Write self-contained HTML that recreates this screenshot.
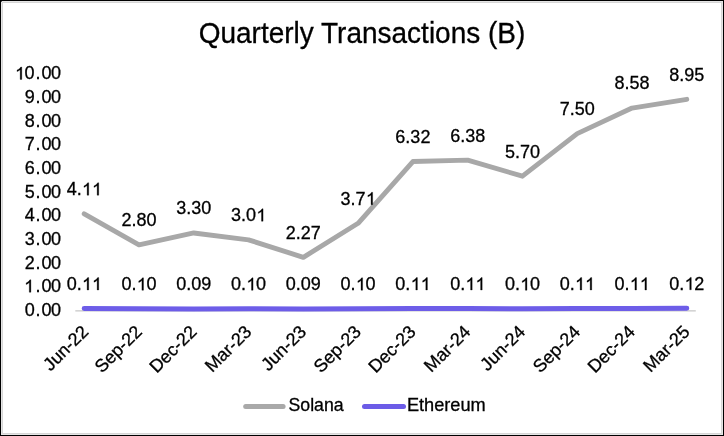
<!DOCTYPE html>
<html><head><meta charset="utf-8"><title>Quarterly Transactions (B)</title>
<style>
html,body{margin:0;padding:0;background:#fff;}
body{width:724px;height:436px;overflow:hidden;font-family:"Liberation Sans",sans-serif;}
svg{display:block;will-change:transform;}
text{font-family:"Liberation Sans",sans-serif;fill:#000;stroke:#000;stroke-width:0.3px;}
</style></head><body>
<svg width="724" height="436" viewBox="0 0 724 436">
<rect x="0" y="0" width="724" height="436" fill="#fff"/>

<g shape-rendering="crispEdges">
<rect x="2.5" y="2.5" width="719" height="431" fill="none" stroke="#d6d6d6" stroke-width="1"/>
<rect x="1.5" y="1.5" width="721" height="433" fill="none" stroke="#e5e5e5" stroke-width="1"/>
<rect x="0.5" y="0.5" width="723" height="435" fill="none" stroke="#000" stroke-width="1"/>
<rect x="1" y="1" width="1" height="1" fill="#555"/>
</g>
<text transform="translate(362,42.8) scale(1,1.035)" font-size="28" text-anchor="middle">Quarterly Transactions (B)</text>
<text x="24.77" y="315.90" font-size="18">0</text><text x="35.38" y="315.90" font-size="18">.</text><text x="41.48" y="315.90" font-size="18">0</text><text x="50.89" y="315.90" font-size="18">0</text>
<path transform="translate(24.77,292.25) scale(0.008789,-0.008789)" d="M696 0H516V1098Q451 1038 345.5 979Q240 920 156 890V1057Q307 1125 420 1221Q533 1318 580 1409H696Z" fill="#000" stroke="#000" stroke-width="34.1"/><text x="35.38" y="292.25" font-size="18">.</text><text x="41.48" y="292.25" font-size="18">0</text><text x="50.89" y="292.25" font-size="18">0</text>
<text x="24.77" y="268.60" font-size="18">2</text><text x="35.38" y="268.60" font-size="18">.</text><text x="41.48" y="268.60" font-size="18">0</text><text x="50.89" y="268.60" font-size="18">0</text>
<text x="24.77" y="244.95" font-size="18">3</text><text x="35.38" y="244.95" font-size="18">.</text><text x="41.48" y="244.95" font-size="18">0</text><text x="50.89" y="244.95" font-size="18">0</text>
<text x="24.77" y="221.30" font-size="18">4</text><text x="35.38" y="221.30" font-size="18">.</text><text x="41.48" y="221.30" font-size="18">0</text><text x="50.89" y="221.30" font-size="18">0</text>
<text x="24.77" y="197.65" font-size="18">5</text><text x="35.38" y="197.65" font-size="18">.</text><text x="41.48" y="197.65" font-size="18">0</text><text x="50.89" y="197.65" font-size="18">0</text>
<text x="24.77" y="174.00" font-size="18">6</text><text x="35.38" y="174.00" font-size="18">.</text><text x="41.48" y="174.00" font-size="18">0</text><text x="50.89" y="174.00" font-size="18">0</text>
<text x="24.77" y="150.35" font-size="18">7</text><text x="35.38" y="150.35" font-size="18">.</text><text x="41.48" y="150.35" font-size="18">0</text><text x="50.89" y="150.35" font-size="18">0</text>
<text x="24.77" y="126.70" font-size="18">8</text><text x="35.38" y="126.70" font-size="18">.</text><text x="41.48" y="126.70" font-size="18">0</text><text x="50.89" y="126.70" font-size="18">0</text>
<text x="24.77" y="103.05" font-size="18">9</text><text x="35.38" y="103.05" font-size="18">.</text><text x="41.48" y="103.05" font-size="18">0</text><text x="50.89" y="103.05" font-size="18">0</text>
<path transform="translate(15.66,79.40) scale(0.008789,-0.008789)" d="M696 0H516V1098Q451 1038 345.5 979Q240 920 156 890V1057Q307 1125 420 1221Q533 1318 580 1409H696Z" fill="#000" stroke="#000" stroke-width="34.1"/><text x="24.57" y="79.40" font-size="18">0</text><text x="35.38" y="79.40" font-size="18">.</text><text x="41.48" y="79.40" font-size="18">0</text><text x="50.89" y="79.40" font-size="18">0</text>
<line x1="75.3" y1="310.9" x2="695.8" y2="310.9" stroke="#b9b9b9" stroke-width="1"/>
<polyline points="84.20,213.80 138.98,244.78 193.76,232.96 248.54,239.81 303.32,257.31 358.10,223.26 412.88,161.53 467.66,160.11 522.44,176.19 577.22,133.62 632.00,108.08 686.78,99.33" fill="none" stroke="#a8a8a8" stroke-width="4.9" stroke-linecap="round" stroke-linejoin="round"/>
<polyline points="84.20,308.60 138.98,308.83 193.76,309.07 248.54,308.83 303.32,309.07 358.10,308.83 412.88,308.60 467.66,308.60 522.44,308.83 577.22,308.60 632.00,308.60 686.78,308.36" fill="none" stroke="#6d5de8" stroke-width="5" stroke-linecap="round" stroke-linejoin="round"/>
<text x="66.68" y="195.20" font-size="18">4</text><text x="76.69" y="195.20" font-size="18">.</text><path transform="translate(82.60,195.20) scale(0.008789,-0.008789)" d="M696 0H516V1098Q451 1038 345.5 979Q240 920 156 890V1057Q307 1125 420 1221Q533 1318 580 1409H696Z" fill="#000" stroke="#000" stroke-width="34.1"/><path transform="translate(92.61,195.20) scale(0.008789,-0.008789)" d="M696 0H516V1098Q451 1038 345.5 979Q240 920 156 890V1057Q307 1125 420 1221Q533 1318 580 1409H696Z" fill="#000" stroke="#000" stroke-width="34.1"/>
<text x="121.46" y="226.18" font-size="18">2.80</text>
<text x="176.24" y="214.36" font-size="18">3.30</text>
<text x="231.02" y="221.21" font-size="18">3</text><text x="241.03" y="221.21" font-size="18">.</text><text x="246.04" y="221.21" font-size="18">0</text><path transform="translate(256.95,221.21) scale(0.008789,-0.008789)" d="M696 0H516V1098Q451 1038 345.5 979Q240 920 156 890V1057Q307 1125 420 1221Q533 1318 580 1409H696Z" fill="#000" stroke="#000" stroke-width="34.1"/>
<text x="285.80" y="238.71" font-size="18">2.27</text>
<text x="340.58" y="204.66" font-size="18">3</text><text x="350.59" y="204.66" font-size="18">.</text><text x="355.60" y="204.66" font-size="18">7</text><path transform="translate(366.51,204.66) scale(0.008789,-0.008789)" d="M696 0H516V1098Q451 1038 345.5 979Q240 920 156 890V1057Q307 1125 420 1221Q533 1318 580 1409H696Z" fill="#000" stroke="#000" stroke-width="34.1"/>
<text x="395.36" y="142.93" font-size="18">6.32</text>
<text x="450.14" y="141.51" font-size="18">6.38</text>
<text x="504.92" y="157.59" font-size="18">5.70</text>
<text x="559.70" y="115.03" font-size="18">7.50</text>
<text x="614.48" y="89.48" font-size="18">8.58</text>
<text x="669.26" y="80.73" font-size="18">8.95</text>
<text x="66.68" y="290.00" font-size="18">0</text><text x="76.69" y="290.00" font-size="18">.</text><path transform="translate(82.60,290.00) scale(0.008789,-0.008789)" d="M696 0H516V1098Q451 1038 345.5 979Q240 920 156 890V1057Q307 1125 420 1221Q533 1318 580 1409H696Z" fill="#000" stroke="#000" stroke-width="34.1"/><path transform="translate(92.61,290.00) scale(0.008789,-0.008789)" d="M696 0H516V1098Q451 1038 345.5 979Q240 920 156 890V1057Q307 1125 420 1221Q533 1318 580 1409H696Z" fill="#000" stroke="#000" stroke-width="34.1"/>
<text x="121.46" y="290.24" font-size="18">0</text><text x="131.47" y="290.24" font-size="18">.</text><path transform="translate(137.38,290.24) scale(0.008789,-0.008789)" d="M696 0H516V1098Q451 1038 345.5 979Q240 920 156 890V1057Q307 1125 420 1221Q533 1318 580 1409H696Z" fill="#000" stroke="#000" stroke-width="34.1"/><text x="146.49" y="290.24" font-size="18">0</text>
<text x="176.24" y="290.47" font-size="18">0.09</text>
<text x="231.02" y="290.24" font-size="18">0</text><text x="241.03" y="290.24" font-size="18">.</text><path transform="translate(246.94,290.24) scale(0.008789,-0.008789)" d="M696 0H516V1098Q451 1038 345.5 979Q240 920 156 890V1057Q307 1125 420 1221Q533 1318 580 1409H696Z" fill="#000" stroke="#000" stroke-width="34.1"/><text x="256.05" y="290.24" font-size="18">0</text>
<text x="285.80" y="290.47" font-size="18">0.09</text>
<text x="340.58" y="290.24" font-size="18">0</text><text x="350.59" y="290.24" font-size="18">.</text><path transform="translate(356.50,290.24) scale(0.008789,-0.008789)" d="M696 0H516V1098Q451 1038 345.5 979Q240 920 156 890V1057Q307 1125 420 1221Q533 1318 580 1409H696Z" fill="#000" stroke="#000" stroke-width="34.1"/><text x="365.61" y="290.24" font-size="18">0</text>
<text x="395.36" y="290.00" font-size="18">0</text><text x="405.37" y="290.00" font-size="18">.</text><path transform="translate(411.28,290.00) scale(0.008789,-0.008789)" d="M696 0H516V1098Q451 1038 345.5 979Q240 920 156 890V1057Q307 1125 420 1221Q533 1318 580 1409H696Z" fill="#000" stroke="#000" stroke-width="34.1"/><path transform="translate(421.29,290.00) scale(0.008789,-0.008789)" d="M696 0H516V1098Q451 1038 345.5 979Q240 920 156 890V1057Q307 1125 420 1221Q533 1318 580 1409H696Z" fill="#000" stroke="#000" stroke-width="34.1"/>
<text x="450.14" y="290.00" font-size="18">0</text><text x="460.15" y="290.00" font-size="18">.</text><path transform="translate(466.06,290.00) scale(0.008789,-0.008789)" d="M696 0H516V1098Q451 1038 345.5 979Q240 920 156 890V1057Q307 1125 420 1221Q533 1318 580 1409H696Z" fill="#000" stroke="#000" stroke-width="34.1"/><path transform="translate(476.07,290.00) scale(0.008789,-0.008789)" d="M696 0H516V1098Q451 1038 345.5 979Q240 920 156 890V1057Q307 1125 420 1221Q533 1318 580 1409H696Z" fill="#000" stroke="#000" stroke-width="34.1"/>
<text x="504.92" y="290.24" font-size="18">0</text><text x="514.93" y="290.24" font-size="18">.</text><path transform="translate(520.84,290.24) scale(0.008789,-0.008789)" d="M696 0H516V1098Q451 1038 345.5 979Q240 920 156 890V1057Q307 1125 420 1221Q533 1318 580 1409H696Z" fill="#000" stroke="#000" stroke-width="34.1"/><text x="529.95" y="290.24" font-size="18">0</text>
<text x="559.70" y="290.00" font-size="18">0</text><text x="569.71" y="290.00" font-size="18">.</text><path transform="translate(575.62,290.00) scale(0.008789,-0.008789)" d="M696 0H516V1098Q451 1038 345.5 979Q240 920 156 890V1057Q307 1125 420 1221Q533 1318 580 1409H696Z" fill="#000" stroke="#000" stroke-width="34.1"/><path transform="translate(585.63,290.00) scale(0.008789,-0.008789)" d="M696 0H516V1098Q451 1038 345.5 979Q240 920 156 890V1057Q307 1125 420 1221Q533 1318 580 1409H696Z" fill="#000" stroke="#000" stroke-width="34.1"/>
<text x="614.48" y="290.00" font-size="18">0</text><text x="624.49" y="290.00" font-size="18">.</text><path transform="translate(630.40,290.00) scale(0.008789,-0.008789)" d="M696 0H516V1098Q451 1038 345.5 979Q240 920 156 890V1057Q307 1125 420 1221Q533 1318 580 1409H696Z" fill="#000" stroke="#000" stroke-width="34.1"/><path transform="translate(640.41,290.00) scale(0.008789,-0.008789)" d="M696 0H516V1098Q451 1038 345.5 979Q240 920 156 890V1057Q307 1125 420 1221Q533 1318 580 1409H696Z" fill="#000" stroke="#000" stroke-width="34.1"/>
<text x="669.26" y="289.76" font-size="18">0</text><text x="679.27" y="289.76" font-size="18">.</text><path transform="translate(685.18,289.76) scale(0.008789,-0.008789)" d="M696 0H516V1098Q451 1038 345.5 979Q240 920 156 890V1057Q307 1125 420 1221Q533 1318 580 1409H696Z" fill="#000" stroke="#000" stroke-width="34.1"/><text x="694.29" y="289.76" font-size="18">2</text>
<text transform="translate(89.50,332.80) rotate(-45)" font-size="18" text-anchor="end">Jun-22</text>
<text transform="translate(142.98,332.80) rotate(-45)" font-size="18" text-anchor="end">Sep-22</text>
<text transform="translate(197.76,332.80) rotate(-45)" font-size="18" text-anchor="end">Dec-22</text>
<text transform="translate(252.54,332.80) rotate(-45)" font-size="18" text-anchor="end">Mar-23</text>
<text transform="translate(307.32,332.80) rotate(-45)" font-size="18" text-anchor="end">Jun-23</text>
<text transform="translate(362.10,332.80) rotate(-45)" font-size="18" text-anchor="end">Sep-23</text>
<text transform="translate(416.88,332.80) rotate(-45)" font-size="18" text-anchor="end">Dec-23</text>
<text transform="translate(471.66,332.80) rotate(-45)" font-size="18" text-anchor="end">Mar-24</text>
<text transform="translate(526.44,332.80) rotate(-45)" font-size="18" text-anchor="end">Jun-24</text>
<text transform="translate(581.22,332.80) rotate(-45)" font-size="18" text-anchor="end">Sep-24</text>
<text transform="translate(636.00,332.80) rotate(-45)" font-size="18" text-anchor="end">Dec-24</text>
<text transform="translate(690.78,332.80) rotate(-45)" font-size="18" text-anchor="end">Mar-25</text>
<line x1="245.7" y1="406.6" x2="283.1" y2="406.6" stroke="#a9a9a9" stroke-width="5" stroke-linecap="round"/>
<text x="288.5" y="410.5" font-size="17.7">Solana</text>
<line x1="364.5" y1="406.4" x2="403.5" y2="406.4" stroke="#6c5ce7" stroke-width="5" stroke-linecap="round"/>
<text x="406.9" y="410.5" font-size="18.2">Ethereum</text>
</svg></body></html>
